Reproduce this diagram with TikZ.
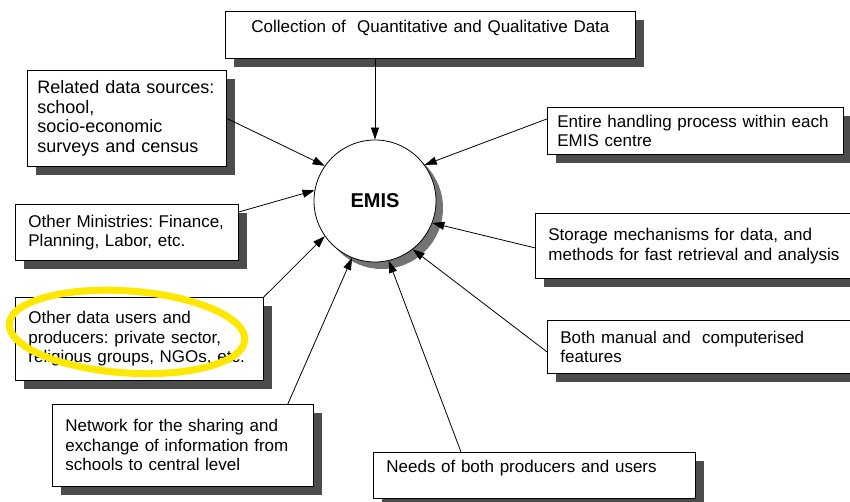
\documentclass[tikz,border=0pt]{standalone}
\usepackage{fontspec}
\setmainfont{Liberation Sans}
\usepackage{tikz}
\usetikzlibrary{shadows,arrows.meta}

\definecolor{marker}{RGB}{255,232,0}
\frenchspacing
\hyphenpenalty=10000

\begin{document}
\begin{tikzpicture}[x=1pt, y=1pt,
    infobox/.style={draw, fill=white, line width=0.8pt, anchor=north west, align=left,
      inner xsep=13pt, inner ysep=0pt, font=\fontsize{17}{19.5}\selectfont,
      drop shadow={shadow xshift=9pt, shadow yshift=-9pt, fill=black!70, opacity=1}},
    hub/.style={draw, circle, fill=white, line width=0.8pt, minimum size=122pt,
      font=\fontsize{20}{24}\selectfont\bfseries,
      drop shadow={shadow xshift=7pt, shadow yshift=-7pt, fill=black!55, opacity=1}},
    feed/.style={-{Triangle[length=12pt,width=8pt]}, line width=0.8pt}]
    \useasboundingbox (0,0) rectangle (850,501);

    \node[hub] (emis) at (375,300) {EMIS};

    \node[infobox, text width=384pt, minimum height=47pt, align=center, text depth=17pt] (coll) at (225,490) {Collection of\ \ Quantitative and Qualitative Data};
    \node[infobox, text width=179pt, inner xsep=10pt, minimum height=96pt, font=\fontsize{18}{19.5}\selectfont] (rel) at (27,431) {Related data sources:\\school,\\socio-economic\\surveys and census};
    \node[infobox, text width=197pt, minimum height=56pt] (min) at (15,297) {Other Ministries: Finance,\\Planning, Labor, etc.};
    \node[infobox, text width=222pt, minimum height=83pt] (odu) at (15,204) {Other data users and\\producers: private sector,\\religious groups, NGOs, etc.};
    \node[infobox, text width=235pt, minimum height=82pt] (net) at (52,97) {Network for the sharing and\\exchange of information from\\schools to central level};
    \node[infobox, text width=296pt, minimum height=46pt, text depth=17.5pt] (needs) at (373,49) {Needs of both producers and users};
    \node[infobox, text width=276pt, inner xsep=10pt, minimum height=47pt] (ent) at (547,394) {Entire handling process within each\\EMIS centre};
    \node[infobox, text width=304pt, minimum height=65pt] (stor) at (535,288) {Storage mechanisms for data, and\\methods for fast retrieval and analysis};
    \node[infobox, text width=304pt, minimum height=53pt] (both) at (547,181) {Both manual and\ \ computerised\\features};

    \draw[feed] (coll.south -| emis.north) -- (emis.north);
    \draw[feed] (rel.east) -- (emis.145);
    \draw[feed] ([yshift=-8pt]min.north east) -- (emis.170);
    \draw[feed] (odu.north east) -- (emis.215);
    \draw[feed] ([xshift=-26pt]net.north east) -- (emis.248);
    \draw[feed] ([xshift=88pt]needs.north west) -- (emis.283);
    \draw[feed] ([yshift=-5pt]both.west) -- (emis.308);
    \draw[feed] ([yshift=-2pt]stor.west) -- (emis.339);
    \draw[feed] ([yshift=12pt]ent.west) -- (emis.36);

    % hand-drawn marker round the third box
    \draw[marker, line width=7pt, rotate around={-4:(128,169)}] (127,169) ellipse [x radius=118pt, y radius=41pt];
\end{tikzpicture}
\end{document}
